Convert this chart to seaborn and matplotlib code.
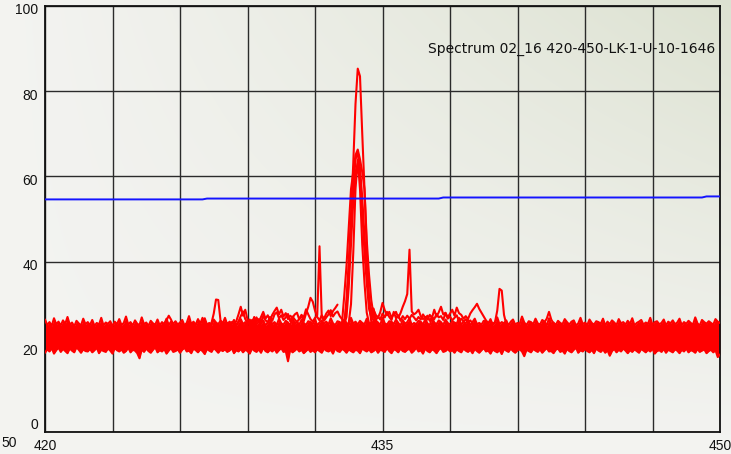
import numpy as np
import pandas as pd
import matplotlib
matplotlib.use("Agg")
import matplotlib.pyplot as plt
import matplotlib.transforms as mtransforms
import seaborn as sns

# ---------------------------------------------------------------------------
# Spectrum data (wavelength axis 420-450, sampled every 0.1)
# ---------------------------------------------------------------------------
STEP = 0.1

# Upper and lower envelope of the overlaid noisy baseline traces (420.0 .. 450.0)
band_hi = [
    26.4, 25.1, 25.8, 24.9, 26.7, 25.3, 25.9, 25.0, 26.2, 25.4, 27.0, 25.2, 25.7, 24.8, 26.1, 25.5, 25.0, 26.6, 25.3, 25.8,
    25.1, 26.3, 24.9, 25.6, 25.2, 26.8, 25.0, 25.7, 25.4, 26.0, 24.8, 25.9, 25.3, 26.5, 25.1, 25.6, 27.1, 25.2, 25.8, 25.0,
    26.2, 25.4, 25.1, 26.9, 25.3, 25.7, 24.9, 26.1, 25.5, 25.2, 26.4, 25.0, 25.8, 25.3, 26.6, 25.1, 25.9, 25.4, 26.0, 25.2,
    25.7, 26.3, 25.0, 25.6, 27.2, 25.3, 25.9, 25.1, 26.2, 25.5, 25.8, 26.7, 25.2, 25.6, 25.0, 26.4, 25.7, 25.3, 26.1, 25.5,
    26.8, 25.2, 25.9, 25.4, 26.3, 25.0, 25.7, 26.5, 25.3, 25.8, 25.1, 26.0, 25.6, 27.0, 25.2, 25.9, 25.4, 26.2, 25.0, 25.7,
    26.4, 25.3, 25.8, 25.1, 26.6, 25.5, 25.2, 26.1, 25.7, 25.0, 26.9, 25.4, 25.9, 25.2, 26.3, 25.6, 25.1, 26.0, 25.8, 25.3,
    26.5, 25.0, 25.7, 26.2, 25.4, 25.9, 25.2, 26.7, 25.5, 25.1, 26.0, 25.8, 25.3, 26.4, 25.6, 25.0, 26.8, 25.4, 25.9, 25.2,
    26.1, 25.6, 25.3, 26.6, 25.0, 25.8, 25.4, 26.2, 25.7, 25.1, 26.9, 25.5, 25.2, 26.0, 25.9, 25.3, 26.4, 25.6, 25.0, 26.3,
    25.4, 25.8, 26.7, 25.1, 25.6, 25.3, 26.1, 25.9, 25.2, 26.5, 25.5, 25.0, 27.0, 25.7, 25.3, 26.2, 25.8, 25.1, 26.4, 25.6,
    25.2, 26.0, 25.7, 25.4, 26.8, 25.1, 25.9, 25.5, 26.3, 25.0, 25.8, 26.6, 25.3, 25.6, 25.2, 26.1, 25.9, 25.4, 26.5, 25.1,
    25.7, 26.9, 25.3, 25.8, 25.5, 26.2, 25.0, 25.9, 26.4, 25.2, 25.6, 25.4, 27.1, 25.7, 25.1, 26.0, 25.8, 25.3, 26.6, 25.5,
    25.2, 26.3, 25.9, 25.0, 26.7, 25.4, 25.7, 25.1, 26.1, 25.6, 25.3, 26.5, 25.8, 25.2, 25.9, 26.2, 25.0, 25.5, 26.8, 25.3,
    25.7, 25.1, 26.4, 25.6, 25.2, 26.0, 25.8, 25.4, 26.6, 25.0, 25.9, 25.3, 26.2, 25.7, 25.1, 26.5, 25.5, 25.8, 25.2, 26.1,
    25.4, 26.7, 25.0, 25.6, 25.9, 26.3, 25.2, 25.7, 25.4, 26.8, 25.1, 25.8, 26.0, 25.3, 25.6, 26.4, 25.0, 25.9, 25.5, 26.2,
    25.3, 25.7, 26.6, 25.1, 25.8, 25.4, 26.1, 25.6, 25.2, 26.9, 25.5, 25.0, 26.3, 25.8, 25.4, 26.0, 25.6, 25.2, 26.5, 25.9,
    25.6,
]
band_lo = [
    18.6, 19.4, 18.9, 19.7, 18.4, 19.2, 19.8, 18.8, 19.5, 19.0, 18.5, 19.6, 19.1, 18.7, 19.9, 19.3, 18.6, 19.4, 19.0, 18.9,
    19.5, 18.7, 19.2, 19.8, 18.5, 19.3, 19.0, 18.8, 19.6, 19.1, 18.4, 19.7, 19.2, 18.9, 19.4, 18.6, 19.0, 19.8, 18.7, 19.3,
    19.1, 18.5, 17.3, 19.4, 18.8, 19.6, 19.0, 18.6, 19.3, 19.9, 18.7, 19.2, 18.9, 19.5, 18.4, 19.1, 19.7, 18.8, 19.0, 19.4,
    18.6, 19.3, 19.8, 18.9, 19.1, 18.5, 19.6, 19.2, 18.7, 19.4, 19.0, 18.3, 19.5, 19.1, 18.8, 19.7, 19.2, 18.6, 19.3, 19.0,
    19.4, 18.8, 19.1, 19.7, 18.5, 19.2, 18.9, 19.5, 18.7, 19.3, 19.0, 18.4, 19.6, 19.1, 18.8, 19.4, 18.6, 19.8, 19.0, 18.7,
    19.3, 18.9, 19.5, 18.6, 19.2, 19.7, 18.8, 19.0, 16.6, 19.4, 18.7, 19.1, 19.6, 18.9, 19.3, 18.5, 19.0, 19.5, 18.8, 19.2,
    18.7, 19.4, 19.0, 18.6, 19.6, 19.1, 18.9, 19.3, 18.4, 19.7, 19.0, 18.8, 19.5, 19.2, 18.6, 19.4, 19.0, 18.7, 19.3, 19.1,
    18.5, 19.6, 19.2, 18.9, 19.4, 18.7, 19.0, 19.5, 18.6, 19.3, 19.1, 18.8, 19.7, 19.0, 18.5, 19.4, 19.2, 18.7, 19.6, 19.0,
    18.8, 19.3, 19.5, 18.6, 19.1, 19.8, 18.9, 19.2, 18.4, 19.6, 19.0, 18.7, 19.4, 19.1, 18.5, 19.3, 19.7, 18.8, 19.0, 19.5,
    18.9, 19.2, 18.6, 19.4, 19.0, 18.7, 19.6, 19.1, 18.8, 19.3, 18.5, 19.5, 19.0, 18.6, 19.2, 19.7, 18.9, 19.1, 18.4, 19.4,
    19.0, 18.7, 19.3, 18.3, 19.5, 19.1, 18.8, 19.6, 19.0, 18.6, 19.2, 19.4, 18.9, 17.8, 19.3, 19.0, 18.7, 19.5, 19.1, 18.8,
    19.4, 18.6, 19.2, 19.7, 18.9, 19.0, 18.5, 19.3, 19.6, 18.8, 19.1, 18.4, 19.5, 19.0, 18.7, 19.3, 19.8, 18.6, 19.2, 18.9,
    19.5, 19.0, 18.7, 19.3, 18.5, 19.6, 19.1, 18.8, 19.4, 18.6, 19.2, 17.9, 19.0, 19.5, 18.7, 19.3, 18.9, 19.6, 19.1, 18.5,
    19.2, 18.8, 19.4, 19.0, 18.6, 19.5, 19.1, 18.7, 19.3, 18.9, 19.6, 18.4, 19.0, 19.2, 18.8, 19.5, 18.6, 19.3, 19.0, 18.7,
    19.4, 19.1, 18.5, 19.3, 18.9, 19.6, 18.7, 19.2, 19.0, 18.6, 19.5, 18.8, 19.1, 19.4, 18.5, 19.0, 19.3, 18.7, 19.2, 17.6,
    18.2,
]

# Traces that rise above the baseline band (start wavelength + values)
raised_1_start = 425.0
raised_1 = [
    24.5, 25.0, 24.8, 25.4, 26.2, 27.3, 26.4, 25.2, 24.6, 25.1,
    24.8, 25.3, 24.9, 25.5, 25.0, 24.7, 25.6, 25.2, 26.5, 25.4,
    26.8, 25.5, 25.0, 25.3, 25.6, 27.8, 31.1, 31.0, 26.2, 25.4,
    25.0, 25.6, 25.2, 25.8, 25.4, 26.0, 27.6, 29.4, 27.3, 28.7,
    26.4, 25.5, 26.3, 25.7, 26.9, 25.8, 27.0, 28.2, 26.6, 27.4,
    26.2, 27.5, 28.4, 29.2, 27.6, 28.7, 27.1, 27.9, 26.5, 27.3,
    26.8, 27.6, 28.0, 26.4, 27.2, 26.0, 27.8, 29.4, 31.5, 30.6,
    28.5, 27.0, 26.2, 27.4, 26.6, 27.8, 28.5, 27.2, 28.4, 29.1,
    29.9,
]
raised_2_start = 428.5
raised_2 = [
    25.2, 26.0, 27.2, 28.3, 26.5, 25.6, 26.4, 25.4, 26.8, 25.9,
    26.5, 25.7, 27.3, 26.2, 25.8, 27.0, 26.1, 27.6, 28.1, 26.7,
    27.4, 26.3, 26.9, 27.7, 26.0, 27.1, 26.4, 25.8, 26.6, 27.5,
    26.9, 28.8, 27.6, 26.5, 25.9, 26.8, 27.4, 43.6, 27.0, 26.1,
    26.9, 27.6, 28.6, 27.1, 27.9, 28.3, 27.2, 26.5,
]
raised_3_start = 434.4
raised_3 = [
    30.0, 28.8, 28.7, 27.5, 26.8, 28.1, 30.3, 28.6, 27.4, 28.2,
    26.9, 27.6, 28.2, 26.8, 27.9, 29.4, 30.7, 32.4, 42.8, 28.3,
    27.6, 28.0, 28.7, 27.2, 26.5, 27.0, 26.4, 27.5, 26.8, 28.7,
    27.1, 28.1, 29.4, 27.6, 28.0, 26.9, 27.8, 28.7, 27.3, 29.2,
    27.9, 27.5, 26.6, 27.2, 26.5, 27.8, 28.6, 29.3, 30.1, 28.9,
    28.0, 27.1, 26.2, 25.6, 26.0, 25.4, 25.8, 28.5, 33.6, 33.2,
    27.5, 25.3, 24.8,
]
raised_4_start = 434.5
raised_4 = [
    26.5, 27.4, 26.2, 27.1, 26.4, 27.8, 26.9, 28.2, 27.0, 26.3,
    28.2, 26.7, 27.4, 26.1, 27.2, 26.5, 27.3, 26.6, 27.5, 26.9,
    26.2, 27.0, 26.4, 27.6, 26.8, 27.3, 26.1, 27.0, 26.5, 27.7,
    26.9, 27.2, 26.3, 27.9, 26.6, 27.1, 26.2, 26.8, 27.4, 26.0,
    26.6, 25.9, 26.5, 25.7, 26.2, 25.5,
]
raised_5_start = 442.1
raised_5 = [25.2, 25.8, 26.6, 28.2, 26.4, 25.5, 25.0]

# Emission line near 433.9 recorded in several scans (433.2 .. 434.7)
peak_start = 433.2
peak_a = [25.0, 25.5, 31.0, 40.0, 51.0, 63.0, 77.0, 85.3, 83.5, 70.0, 57.0, 43.0, 30.0, 26.0, 25.5, 25.0]
peak_b = [25.6, 32.0, 39.0, 48.0, 57.0, 61.0, 65.0, 66.3, 64.0, 61.0, 57.0, 45.0, 37.0, 31.0, 27.5, 25.5]
peak_c = [24.8, 25.0, 30.0, 38.0, 48.0, 57.0, 64.0, 65.5, 62.0, 55.0, 46.0, 38.0, 32.0, 28.0, 26.0, 25.0]
peak_d = [24.9, 25.0, 25.2, 25.6, 30.0, 42.0, 57.0, 64.0, 57.0, 44.0, 35.0, 28.0, 25.6, 25.2, 25.0, 24.9]
peak_e = [25.0, 25.3, 27.0, 34.0, 44.0, 54.0, 61.0, 63.0, 60.0, 52.0, 42.0, 35.0, 29.0, 27.0, 29.0, 26.5]

# Reference level trace
blue_x = [420.0, 427.0, 427.2, 437.5, 437.7, 449.2, 449.4, 450.0]
blue_y = [54.6, 54.6, 54.8, 54.8, 55.05, 55.05, 55.3, 55.3]

x_ticks = [420, 423, 426, 429, 432, 435, 438, 441, 444, 447, 450]
x_tick_labels = ["420", "", "", "", "", "435", "", "", "", "", "450"]
y_ticks = [0, 20, 40, 60, 80, 100]
y_tick_labels = ["0", "20", "40", "60", "80", "100"]

title_text = "Spectrum 02_16 420-450-LK-1-U-10-1646"


def sampled(start, values):
    """Wavelength positions for values sampled every STEP from start."""
    return np.round(start + STEP * np.arange(len(values)), 3)


band_x = sampled(420.0, band_hi)

frames = []
for name, start, vals in [
    ("hi", 420.0, band_hi),
    ("lo", 420.0, band_lo),
    ("r1", raised_1_start, raised_1),
    ("r2", raised_2_start, raised_2),
    ("r3", raised_3_start, raised_3),
    ("r4", raised_4_start, raised_4),
    ("r5", raised_5_start, raised_5),
    ("pd", peak_start, peak_d),
    ("pe", peak_start, peak_e),
    ("pc", peak_start, peak_c),
    ("pb", peak_start, peak_b),
    ("pa", peak_start, peak_a),
]:
    frames.append(pd.DataFrame({"wavelength": sampled(start, vals),
                                "intensity": vals, "scan": name}))
traces = pd.concat(frames, ignore_index=True)

# ---------------------------------------------------------------------------
# Figure
# ---------------------------------------------------------------------------
sns.set_style("white")
plt.rcParams["font.family"] = ["Liberation Sans", "DejaVu Sans"]

W, H = 731, 454
fig = plt.figure(figsize=(W / 100, H / 100), dpi=100)

# soft gradient backdrop
bg = fig.add_axes([0, 0, 1, 1], zorder=-10)
yy, xx = np.mgrid[0:1:H * 1j, 0:1:W * 1j]
w = np.clip(xx * (1 - yy), 0, 1) ** 1.1
c0 = np.array([0.955, 0.955, 0.945])
c1 = np.array([0.865, 0.885, 0.820])
bg.imshow(c0 + (c1 - c0) * w[..., None], aspect="auto", origin="upper",
          extent=[0, 1, 0, 1])
bg.axis("off")

ax = fig.add_axes([45 / W, 22 / H, 675 / W, 426 / H])
ax.patch.set_alpha(0)

ax.fill_between(band_x, band_lo, band_hi, color="#ff0000", lw=0, zorder=2)
sns.lineplot(data=traces, x="wavelength", y="intensity", units="scan",
             estimator=None, sort=False, color="#ff0000", lw=1.5,
             legend=False, ax=ax, zorder=3)
sns.lineplot(x=blue_x, y=blue_y, color="#1414ff", lw=1.4, ax=ax, zorder=4)

ax.set_xlim(420, 450)
ax.set_ylim(0, 100)
ax.set_xticks(x_ticks)
ax.set_xticklabels(x_tick_labels)
ax.set_yticks(y_ticks)
ax.set_yticklabels(y_tick_labels)
ax.set_xlabel("")
ax.set_ylabel("")
ax.grid(True, color="#2b2b2b", lw=1.0, zorder=1)
ax.set_axisbelow(True)
ax.tick_params(axis="both", length=0, labelsize=10, colors="#111111")
ax.tick_params(axis="x", pad=5)
ax.tick_params(axis="y", pad=5)
for side in ["left", "bottom", "top", "right"]:
    ax.spines[side].set_color("#111111")
    ax.spines[side].set_linewidth(1.3)

# nudge the y labels slightly below their grid lines; keep "0" above the axis
shift = mtransforms.ScaledTranslation(0, -3 / 100, fig.dpi_scale_trans)
for lab in ax.get_yticklabels():
    if lab.get_text() == "0":
        lab.set_verticalalignment("bottom")
    else:
        lab.set_transform(lab.get_transform() + shift)

ax.text(449.78, 90.0, title_text, ha="right", va="center", fontsize=10,
        family=["DejaVu Sans"], color="#111111", zorder=5)

fig.text(1 / W, 1 - 443 / H, "50", ha="left", va="center", fontsize=10,
         color="#111111")

fig.savefig("out.png", dpi=100)
